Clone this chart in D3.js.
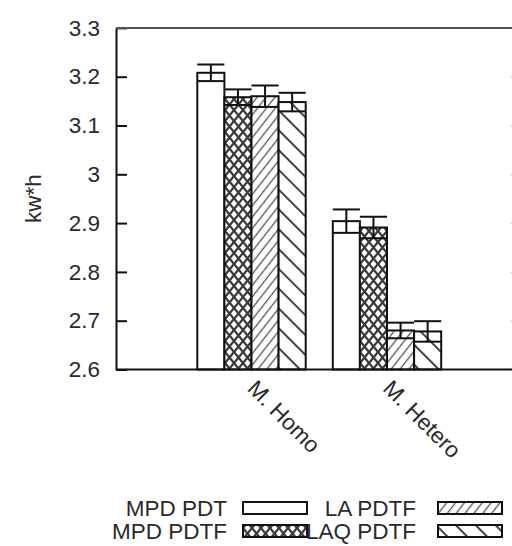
<!DOCTYPE html>
<html>
<head>
<meta charset="utf-8">
<script src="https://cdn.jsdelivr.net/npm/d3@7"></script>
<style>
  html, body { margin: 0; padding: 0; background: #fff; }
  text { font-family: "Liberation Sans", Arial, sans-serif; }
</style>
</head>
<body>
<div id="chart"></div>
<script>
const categories = ["M. Homo", "M. Hetero"];
const series = ["MPD PDT", "MPD PDTF", "LA PDTF", "LAQ PDTF"];
const mpdPdt   = [3.208, 2.904];
const mpdPdtf  = [3.158, 2.891];
const laPdtf   = [3.160, 2.680];
const laqPdtf  = [3.148, 2.678];
const errMpdPdt  = [0.017, 0.024];
const errMpdPdtf = [0.016, 0.022];
const errLaPdtf  = [0.022, 0.016];
const errLaqPdtf = [0.019, 0.021];
const yTicks = [2.6, 2.7, 2.8, 2.9, 3.0, 3.1, 3.2, 3.3];
const yTickLabels = ["2.6", "2.7", "2.8", "2.9", "3", "3.1", "3.2", "3.3"];
const yLabel = "kw*h";

const values = [mpdPdt, mpdPdtf, laPdtf, laqPdtf];
const errors = [errMpdPdt, errMpdPdtf, errLaPdtf, errLaqPdtf];
const fills = ["url(#p-none)", "url(#p-cross)", "url(#p-fwd)", "url(#p-back)"];

const width = 512, height = 546;
const plotLeft = 116, plotRight = 522.5, plotTop = 27.9, plotBottom = 369.5;
const fontSize = 22.5;
const textColor = "#2a2a2a";

const svg = d3.select("#chart").append("svg")
  .attr("width", width)
  .attr("height", height);

// fill patterns
const defs = svg.append("defs");
defs.append("pattern").attr("id", "p-none")
  .attr("patternUnits", "userSpaceOnUse").attr("width", 10).attr("height", 10)
  .append("rect").attr("width", 10).attr("height", 10).attr("fill", "#fff");

const cross = defs.append("pattern").attr("id", "p-cross")
  .attr("patternUnits", "userSpaceOnUse").attr("width", 9).attr("height", 11);
cross.append("rect").attr("width", 9).attr("height", 11).attr("fill", "#fff");
cross.append("path")
  .attr("d", "M0,0L9,11M9,0L0,11")
  .attr("stroke", "#3a3a3a").attr("stroke-width", 2.3);

const fwd = defs.append("pattern").attr("id", "p-fwd")
  .attr("patternUnits", "userSpaceOnUse").attr("width", 7).attr("height", 7)
  .attr("patternTransform", "rotate(38)");
fwd.append("rect").attr("width", 7).attr("height", 7).attr("fill", "#fff");
fwd.append("line").attr("x1", 3.5).attr("x2", 3.5).attr("y1", 0).attr("y2", 7)
  .attr("stroke", "#555").attr("stroke-width", 1.3);

const back = defs.append("pattern").attr("id", "p-back")
  .attr("patternUnits", "userSpaceOnUse").attr("width", 14).attr("height", 14)
  .attr("patternTransform", "rotate(-45)");
back.append("rect").attr("width", 14).attr("height", 14).attr("fill", "#fff");
back.append("line").attr("x1", 7).attr("x2", 7).attr("y1", 0).attr("y2", 14)
  .attr("stroke", "#444").attr("stroke-width", 2);

// scales
const x = d3.scaleLinear().domain([-1, 2]).range([plotLeft, plotRight]);
const unit = x(1) - x(0);
const inner = d3.scaleBand().domain(series).range([-0.4 * unit, 0.4 * unit]);
const y = d3.scaleLinear().domain([2.6, 3.3]).range([plotBottom, plotTop]);

// axes
const yAxis = svg.append("g")
  .attr("transform", `translate(${plotLeft},0)`)
  .call(d3.axisLeft(y).tickValues(yTicks).tickSize(-11).tickSizeOuter(0)
    .tickFormat((d, i) => yTickLabels[i]));
yAxis.select(".domain").attr("stroke", "#111").attr("stroke-width", 2);
yAxis.selectAll(".tick line").attr("stroke", "#111").attr("stroke-width", 2);
yAxis.selectAll(".tick text")
  .attr("x", -16)
  .attr("font-size", fontSize)
  .attr("font-family", "Liberation Sans, Arial, sans-serif")
  .attr("fill", textColor);

const yRight = svg.append("g")
  .attr("transform", `translate(${plotRight},0)`)
  .call(d3.axisRight(y).tickValues(yTicks).tickSize(-11).tickSizeOuter(0).tickFormat(""));
yRight.select(".domain").attr("stroke", "#666").attr("stroke-width", 2);
yRight.selectAll(".tick line").attr("stroke", "#999").attr("stroke-width", 1.5);

svg.append("line")
  .attr("x1", plotLeft).attr("x2", plotRight)
  .attr("y1", plotTop).attr("y2", plotTop)
  .attr("stroke", "#555").attr("stroke-width", 2);

// bars
categories.forEach((c, ci) => {
  const g = svg.append("g");
  series.forEach((s, si) => {
    const x0 = x(ci) + inner(s);
    const bw = inner.bandwidth();
    const v = values[si][ci];
    const e = errors[si][ci];
    g.append("rect")
      .attr("x", x0).attr("y", y(v))
      .attr("width", bw).attr("height", y(2.6) - y(v))
      .attr("fill", fills[si])
      .attr("stroke", "#111").attr("stroke-width", 2);
    const cx = x0 + bw / 2;
    g.append("line")
      .attr("x1", cx).attr("x2", cx)
      .attr("y1", y(v + e)).attr("y2", y(v - e))
      .attr("stroke", "#111").attr("stroke-width", 2);
    [v + e, v - e].forEach(t => {
      g.append("line")
        .attr("x1", x0).attr("x2", x0 + bw)
        .attr("y1", y(t)).attr("y2", y(t))
        .attr("stroke", "#111").attr("stroke-width", 2);
    });
  });
});

// bottom axis line
svg.append("line")
  .attr("x1", plotLeft).attr("x2", plotRight)
  .attr("y1", plotBottom).attr("y2", plotBottom)
  .attr("stroke", "#111").attr("stroke-width", 2);

// category labels, rotated
categories.forEach((c, ci) => {
  svg.append("text")
    .attr("transform", `translate(${x(ci)},${plotBottom + 15}) rotate(45)`)
    .attr("text-anchor", "start")
    .attr("dominant-baseline", "central")
    .attr("font-size", fontSize)
    .attr("fill", textColor)
    .text(c);
});

// y label
svg.append("text")
  .attr("transform", `translate(33,${(plotTop + plotBottom) / 2}) rotate(-90)`)
  .attr("text-anchor", "middle")
  .attr("dominant-baseline", "central")
  .attr("font-size", fontSize)
  .attr("fill", textColor)
  .text(yLabel);

// legend (2 columns, text right-justified, sample box on the right)
const legendCols = [{ textX: 227, boxX: 243 }, { textX: 416, boxX: 438 }];
const legendRows = [508, 531];
series.forEach((s, si) => {
  const col = legendCols[Math.floor(si / 2)];
  const rowY = legendRows[si % 2];
  svg.append("text")
    .attr("x", col.textX).attr("y", rowY)
    .attr("text-anchor", "end")
    .attr("dominant-baseline", "central")
    .attr("font-size", fontSize)
    .attr("fill", textColor)
    .text(s);
  svg.append("rect")
    .attr("x", col.boxX).attr("y", rowY - 6)
    .attr("width", 64).attr("height", 12)
    .attr("fill", fills[si])
    .attr("stroke", "#111").attr("stroke-width", 2);
});
</script>
</body>
</html>
